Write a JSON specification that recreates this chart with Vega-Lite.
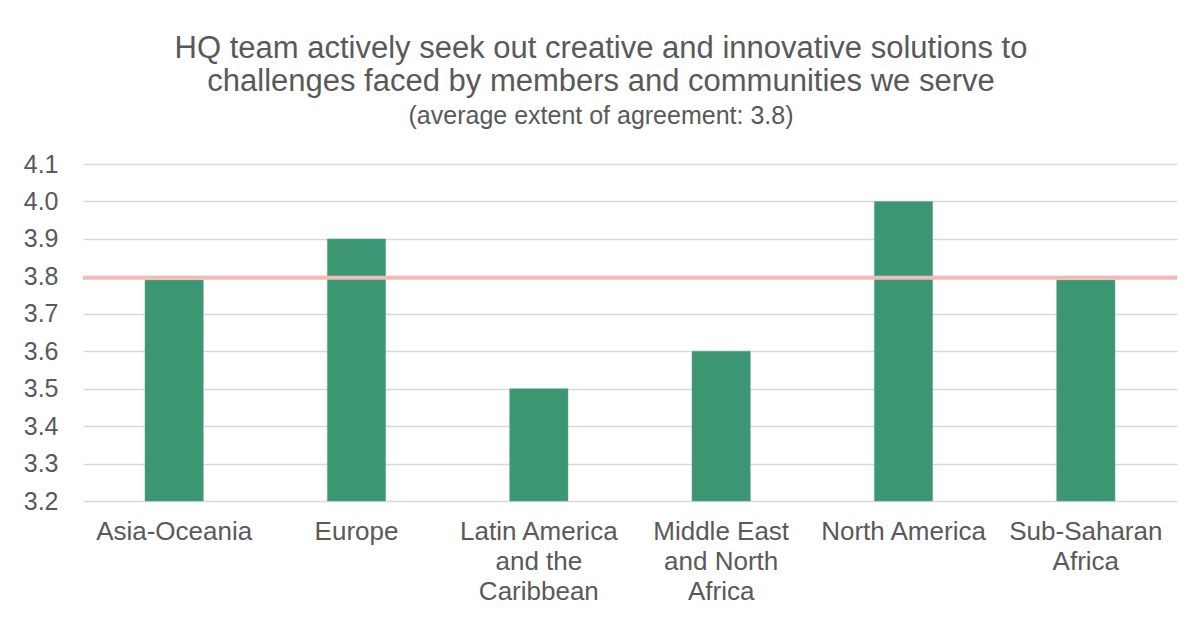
{
  "$schema": "https://vega.github.io/schema/vega-lite/v6.json",
  "width": 1094,
  "height": 337,
  "autosize": "none",
  "padding": {"left": 83, "top": 164, "right": 26, "bottom": 123},
  "background": "white",
  "title": {
    "text": ["HQ team actively seek out creative and innovative solutions to", "challenges faced by members and communities we serve"],
    "subtitle": "(average extent of agreement: 3.8)",
    "anchor": "middle",
    "dx": -29,
    "font": "Liberation Sans",
    "fontSize": 31,
    "fontWeight": "normal",
    "color": "#595959",
    "lineHeight": 33,
    "subtitleFont": "Liberation Sans",
    "subtitleFontSize": 25,
    "subtitleColor": "#595959",
    "subtitlePadding": 6,
    "offset": 22
  },
  "config": {
    "view": {"stroke": null},
    "font": "Liberation Sans"
  },
  "layer": [
    {
      "data": {
        "values": [
          {"region": "Asia-Oceania", "score": 3.79},
          {"region": "Europe", "score": 3.9},
          {"region": "Latin America and the Caribbean", "score": 3.5},
          {"region": "Middle East and North Africa", "score": 3.6},
          {"region": "North America", "score": 4.0},
          {"region": "Sub-Saharan Africa", "score": 3.79}
        ]
      },
      "mark": {"type": "bar", "color": "#3c9673", "stroke": "#5fae8f", "strokeWidth": 0.5},
      "encoding": {
        "x": {
          "field": "region",
          "type": "nominal",
          "sort": null,
          "scale": {"paddingInner": 0.68, "paddingOuter": 0.34},
          "axis": {
            "title": null,
            "labelAngle": 0,
            "domain": false,
            "ticks": false,
            "labelFont": "Liberation Sans",
            "labelFontSize": 26,
            "labelColor": "#595959",
            "labelPadding": 17,
            "labelLineHeight": 30,
            "labelBaseline": "top",
            "labelLimit": 0,
            "labelOverlap": false,
            "labelExpr": "datum.label == 'Latin America and the Caribbean' ? ['Latin America', 'and the', 'Caribbean'] : datum.label == 'Middle East and North Africa' ? ['Middle East', 'and North', 'Africa'] : datum.label == 'Sub-Saharan Africa' ? ['Sub-Saharan', 'Africa'] : datum.label"
          }
        },
        "y": {
          "field": "score",
          "type": "quantitative",
          "scale": {"domain": [3.2, 4.1], "zero": false, "nice": false},
          "axis": {
            "title": null,
            "values": [3.2, 3.3, 3.4, 3.5, 3.6, 3.7, 3.8, 3.9, 4.0, 4.1],
            "tickCount": 10,
            "format": ".1f",
            "labelOverlap": false,
            "domain": false,
            "ticks": false,
            "grid": true,
            "gridColor": "#d9d9d9",
            "gridWidth": 1.5,
            "labelFont": "Liberation Sans",
            "labelFontSize": 25,
            "labelColor": "#595959",
            "labelPadding": 25
          }
        },
        "y2": {"datum": 3.2}
      }
    },
    {
      "data": {"values": [{"average": 3.796}]},
      "mark": {"type": "rule", "color": "#f4b9b9", "strokeWidth": 4},
      "encoding": {
        "y": {"field": "average", "type": "quantitative"}
      }
    }
  ]
}
